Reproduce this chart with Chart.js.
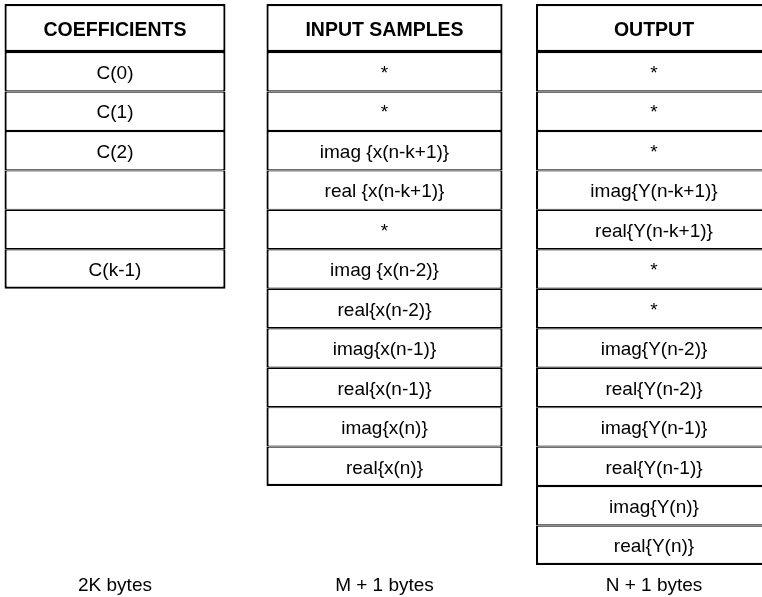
<!DOCTYPE html>
<html><head><meta charset="utf-8">
<script src="https://cdn.jsdelivr.net/npm/chart.js@4.4.0/dist/chart.umd.min.js"></script>
<style>html,body{margin:0;padding:0;background:#fff}canvas{display:block}</style>
</head><body>
<canvas id="c" width="762" height="597"></canvas>
<script>
// ---- data ----
const headers = ['COEFFICIENTS', 'INPUT SAMPLES', 'OUTPUT'];
const sizeLabels = ['2K bytes', 'M + 1 bytes', 'N + 1 bytes'];
const coefficients = ['C(0)', 'C(1)', 'C(2)', '', '', 'C(k-1)'];
const inputSamples = ['*', '*', 'imag {x(n-k+1)}', 'real {x(n-k+1)}', '*', 'imag {x(n-2)}',
  'real{x(n-2)}', 'imag{x(n-1)}', 'real{x(n-1)}', 'imag{x(n)}', 'real{x(n)}'];
const outputValues = ['*', '*', '*', 'imag{Y(n-k+1)}', 'real{Y(n-k+1)}', '*', '*',
  'imag{Y(n-2)}', 'real{Y(n-2)}', 'imag{Y(n-1)}', 'real{Y(n-1)}', 'imag{Y(n)}', 'real{Y(n)}'];
const columns = [coefficients, inputSamples, outputValues];

// ---- style ----
const HEADER_SPAN = 1.216;          // header row height, in row units
const barPct = [0.820, 0.876, 0.876];
const FONT = '"Liberation Sans", Arial, Helvetica, sans-serif';
const INK = '#000';

const datasets = columns.map((cells, c) => ({
  label: headers[c],
  texts: [headers[c], ...cells],
  data: [{ x: sizeLabels[c], y: [-HEADER_SPAN, 0] },
    ...cells.map((t, i) => ({ x: sizeLabels[c], y: [i, i + 1] }))],
  backgroundColor: '#fff',
  borderColor: INK,
  borderWidth: ctx => {
    if (ctx.dataIndex === undefined) return 2;
    if (ctx.dataIndex === 0) return { top: 2.2, bottom: 2.2, left: 2.2, right: 2.2 };
    const last = ctx.dataIndex === cells.length;
    return { top: 1.2, bottom: last ? 2.2 : 1.2, left: 2.2, right: 2.2 };
  },
  borderSkipped: false,
  grouped: false,
  categoryPercentage: 1,
  barPercentage: barPct[c],
  clip: false
}));

const cellText = {
  id: 'cellText',
  afterDatasetsDraw(chart) {
    const ctx = chart.ctx;
    ctx.save();
    ctx.textAlign = 'center';
    ctx.textBaseline = 'middle';
    ctx.fillStyle = INK;
    chart.data.datasets.forEach((ds, di) => {
      chart.getDatasetMeta(di).data.forEach((el, i) => {
        const t = ds.texts[i];
        if (!t) return;
        ctx.font = (i === 0 ? 'bold 19.5px ' : '19px ') + FONT;
        ctx.fillText(t, el.x, (el.y + el.base) / 2 + (i === 0 ? 2.5 : 2));
      });
    });
    ctx.restore();
  }
};

new Chart(document.getElementById('c'), {
  type: 'bar',
  data: { labels: sizeLabels, datasets },
  plugins: [cellText],
  options: {
    responsive: false,
    animation: false,
    layout: { padding: { left: 115, right: 108, top: 0, bottom: 0 } },
    plugins: { legend: { display: false }, tooltip: { enabled: false } },
    scales: {
      x: {
        type: 'category',
        offset: false,
        grid: { display: false, drawTicks: false, tickLength: 0 },
        border: { display: false },
        ticks: { color: INK, font: { family: FONT, size: 19 }, padding: 2.5, maxRotation: 0, autoSkip: false },
        afterFit: s => { s.height = 25; }
      },
      y: { display: false, reverse: true, min: -1.318, max: 13.178 }
    }
  }
});
</script>
</body></html>
